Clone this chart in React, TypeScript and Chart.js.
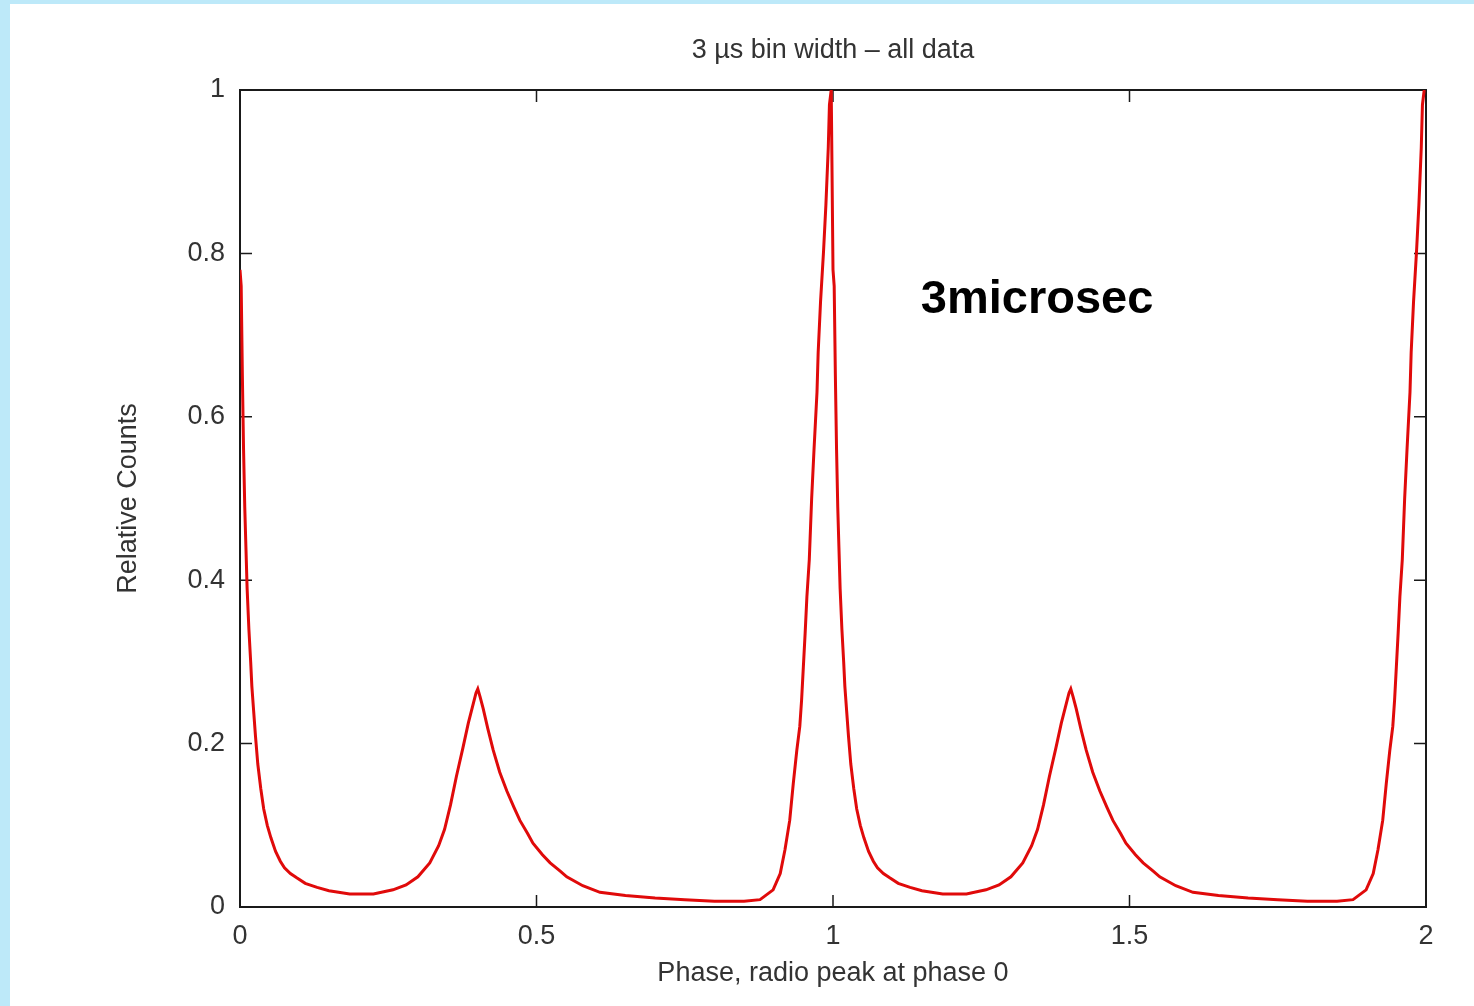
import React, { useEffect, useRef } from 'react'
import { Chart, registerables } from 'chart.js'

Chart.register(...registerables)

// one pulse period; plotted twice (phase 0-1 and 1-2)
const profilePhase = [
	0.0, 0.002, 0.004, 0.006, 0.008, 0.01, 0.012, 0.015, 0.018, 0.02, 0.023, 0.026, 0.03, 0.035, 0.04, 0.046,
	0.052, 0.06, 0.068, 0.075, 0.085, 0.095, 0.11, 0.13, 0.15, 0.185, 0.225, 0.258, 0.28, 0.3, 0.32, 0.335,
	0.345, 0.355, 0.365, 0.376, 0.385, 0.392, 0.398, 0.401, 0.405, 0.41, 0.418, 0.427, 0.438, 0.45, 0.462,
	0.472, 0.485, 0.494, 0.51, 0.523, 0.54, 0.551, 0.578, 0.607, 0.65, 0.7, 0.75, 0.8, 0.85, 0.877, 0.899,
	0.911, 0.919, 0.927, 0.933, 0.939, 0.944, 0.947, 0.95, 0.953, 0.956, 0.96, 0.964, 0.968, 0.973, 0.975,
	0.979, 0.984, 0.988, 0.992, 0.994, 0.997,
]
const profileCounts = [
	0.78, 0.76, 0.65, 0.56, 0.49, 0.44, 0.39, 0.34, 0.3, 0.27, 0.24, 0.21, 0.175, 0.145, 0.12, 0.1,
	0.085, 0.068, 0.056, 0.048, 0.041, 0.036, 0.029, 0.024, 0.02, 0.016, 0.016, 0.021, 0.027, 0.037, 0.054, 0.075,
	0.095, 0.125, 0.16, 0.195, 0.225, 0.245, 0.262, 0.267, 0.257, 0.243, 0.218, 0.192, 0.165, 0.142, 0.122,
	0.106, 0.09, 0.078, 0.064, 0.054, 0.044, 0.037, 0.026, 0.018, 0.014, 0.011, 0.009, 0.007, 0.007, 0.009, 0.021,
	0.041, 0.07, 0.106, 0.151, 0.192, 0.221, 0.253, 0.294, 0.335, 0.38, 0.425, 0.5, 0.56, 0.63, 0.679,
	0.741, 0.802, 0.859, 0.929, 0.982, 1.0,
]
const periods = [0, 1]

const xTickValues = [0, 0.5, 1, 1.5, 2]
const yTickValues = [0, 0.2, 0.4, 0.6, 0.8, 1]

const titleText = '3 \u00b5s bin width \u2013 all data'
const xTitle = 'Phase, radio peak at phase 0'
const yTitle = 'Relative Counts'
const noteText = '3microsec'
const notePos = { x: 1.148, y: 0.743 }

const FONT = '"Liberation Sans", Arial, Helvetica, sans-serif'
const TEXT = '#333'
const TICK = 12

const frameTicks = {
	id: 'frameTicks',
	beforeDatasetsDraw(chart: Chart) {
		const { ctx, chartArea: a } = chart
		const xs = chart.scales.x
		const ys = chart.scales.y
		ctx.save()
		// title, centred over the plot box
		ctx.fillStyle = TEXT
		ctx.font = '27px ' + FONT
		ctx.textAlign = 'center'
		ctx.textBaseline = 'middle'
		ctx.fillText(titleText, (a.left + a.right) / 2, 51)

		ctx.strokeStyle = '#1a1a1a'
		ctx.lineWidth = 2
		ctx.strokeRect(a.left, a.top, a.right - a.left, a.bottom - a.top)
		ctx.lineWidth = 1.5
		ctx.beginPath()
		xTickValues.forEach((v) => {
			const px = xs.getPixelForValue(v)
			ctx.moveTo(px, a.bottom)
			ctx.lineTo(px, a.bottom - TICK)
			ctx.moveTo(px, a.top)
			ctx.lineTo(px, a.top + TICK)
		})
		yTickValues.forEach((v) => {
			const py = ys.getPixelForValue(v)
			ctx.moveTo(a.left, py)
			ctx.lineTo(a.left + TICK, py)
			ctx.moveTo(a.right, py)
			ctx.lineTo(a.right - TICK, py)
		})
		ctx.stroke()
		ctx.restore()
	},
	afterDatasetsDraw(chart: Chart) {
		const { ctx } = chart
		ctx.save()
		ctx.fillStyle = '#000'
		ctx.font = 'bold 47px ' + FONT
		ctx.textAlign = 'left'
		ctx.textBaseline = 'middle'
		ctx.fillText(noteText, chart.scales.x.getPixelForValue(notePos.x), chart.scales.y.getPixelForValue(notePos.y))
		ctx.restore()
	},
}

function PulseProfile() {
	const refContainer = useRef<HTMLCanvasElement>(null)

	useEffect(() => {
		document.body.style.margin = '0'
		let chart: Chart | undefined
		if (refContainer.current) {
			const points = periods.flatMap((p) =>
				profilePhase.map((ph, i) => ({ x: ph + p, y: profileCounts[i] })),
			)
			chart = new Chart(refContainer.current, {
				type: 'line',
				data: {
					datasets: [
						{
							data: points,
							borderColor: '#e00a0a',
							borderWidth: 3,
							pointRadius: 0,
							tension: 0,
							fill: false,
						},
					],
				},
				options: {
					animation: false,
					responsive: false,
					layout: { padding: { left: 0, top: 90, right: 48, bottom: 0 } },
					plugins: {
						legend: { display: false },
						tooltip: { enabled: false },
						title: { display: false },
					},
					scales: {
						x: {
							type: 'linear',
							min: 0,
							max: 2,
							afterBuildTicks: (s: any) => {
								s.ticks = xTickValues.map((v) => ({ value: v }))
							},
							afterFit: (s: any) => {
								s.height = 99
							},
							grid: { display: false, drawTicks: false },
							border: { display: false },
							ticks: {
								color: TEXT,
								padding: 13,
								maxRotation: 0,
								font: { family: FONT, size: 27 },
								callback: (v: any) => String(v),
							},
							title: {
								display: true,
								text: xTitle,
								color: TEXT,
								font: { family: FONT, size: 27 },
								padding: { top: 0, bottom: 16 },
							},
						},
						y: {
							type: 'linear',
							min: 0,
							max: 1,
							afterBuildTicks: (s: any) => {
								s.ticks = yTickValues.map((v) => ({ value: v }))
							},
							afterFit: (s: any) => {
								s.width = 240
							},
							grid: { display: false, drawTicks: false },
							border: { display: false },
							ticks: {
								color: TEXT,
								padding: 15,
								font: { family: FONT, size: 27 },
								callback: (v: any) => String(v),
							},
							title: {
								display: true,
								text: yTitle,
								color: TEXT,
								font: { family: FONT, size: 27 },
								padding: { top: 112, bottom: 0 },
							},
						},
					},
				},
				plugins: [frameTicks],
			})
		}
		return () => chart?.destroy()
	}, [])

	return (
		<div style={{ position: 'relative', width: 1474, height: 1006, background: 'rgb(189,233,249)', overflow: 'hidden' }}>
			<div style={{ position: 'absolute', left: 10, top: 4, right: 0, bottom: 0, background: '#fff' }} />
			<canvas
				ref={refContainer}
				width={1474}
				height={1006}
				style={{ position: 'absolute', left: 0, top: 0 }}
				aria-label="pulse-profile"
			/>
		</div>
	)
}

export default function App() {
	return <PulseProfile />
}
